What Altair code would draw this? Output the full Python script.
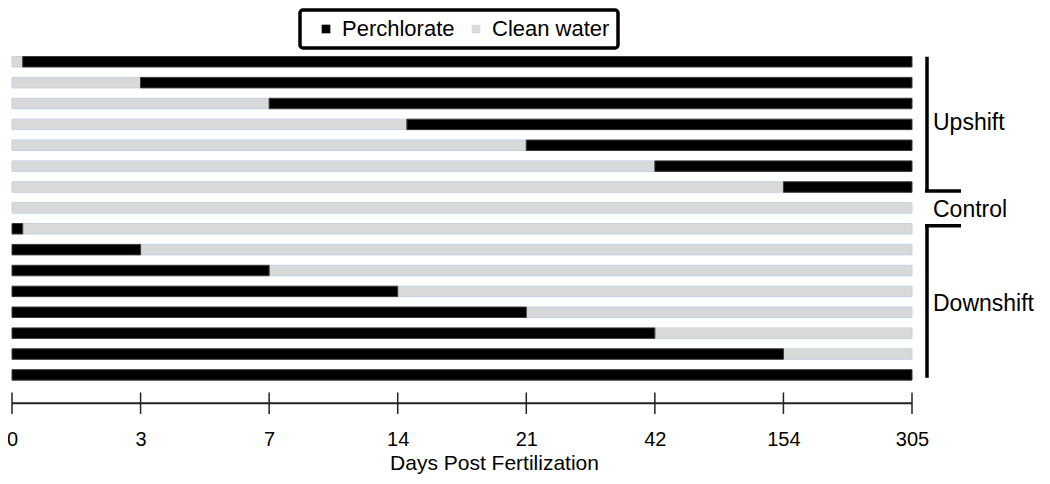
import altair as alt
import pandas as pd

# ---------------- data ----------------
tick_days = [0, 3, 7, 14, 21, 42, 154, 305]
series = ["Perchlorate", "Clean water"]
series_colors = ["#000000", "#d9d9d9"]
series_strokes = ["#3a3a3a", "#c3d0e3"]

# Upshift: clean water until the switch day, perchlorate afterwards
upshift_switch = [0.25, 3, 7, 14.5, 21, 42, 154]
# Control: clean water throughout (one row)
control_end = [305]
# Downshift: perchlorate until the switch day, clean water afterwards
downshift_switch = [0.25, 3, 7, 14, 21, 42, 154, 305]

group_names = ["Upshift", "Control", "Downshift"]
group_label_rows = [2.95, 7.1, 11.6]
bracket_names = ["Upshift", "Downshift"]
bracket_top = [-0.24, 7.86]
bracket_bottom = [6.19, 15.14]
bracket_foot = [6.19, 7.86]

# ---------------- build segments ----------------
end_day = tick_days[-1]
rows = []
r = 0
for s in upshift_switch:
    rows.append({"row": r, "start": 0, "end": s, "series": "Clean water", "order": 0})
    rows.append({"row": r, "start": s, "end": end_day, "series": "Perchlorate", "order": 1})
    r += 1
for e in control_end:
    rows.append({"row": r, "start": 0, "end": e, "series": "Clean water", "order": 0})
    r += 1
for s in downshift_switch:
    if s < end_day:
        rows.append({"row": r, "start": s, "end": end_day, "series": "Clean water", "order": 0})
    rows.append({"row": r, "start": 0, "end": s, "series": "Perchlorate", "order": 1})
    r += 1
seg = pd.DataFrame(rows).sort_values("order")

labels_df = pd.DataFrame({"label": group_names, "row": group_label_rows})
br_df = pd.DataFrame({"name": bracket_names, "top": bracket_top,
                      "bottom": bracket_bottom, "foot": bracket_foot})
ticks_df = pd.DataFrame({"day": tick_days})
axis_df = pd.DataFrame({"x": [tick_days[0]], "x2": [tick_days[-1]]})

# ---------------- layout ----------------
FONT = "Liberation Sans, Arial, sans-serif"
PLOT_W = 900
H = 408
ROW_STEP = 21.4
FIRST_ROW_Y = 50
AXIS_Y = 400          # plot px of the axis line
TICK_UP, TICK_DOWN = 11, 11


def to_row(px):
    return (px - FIRST_ROW_Y) / ROW_STEP


n_int = len(tick_days) - 1
x_scale = alt.Scale(domain=tick_days,
                    range=[i * PLOT_W / n_int for i in range(len(tick_days))],
                    nice=False, zero=False)
y_scale = alt.Scale(domain=[to_row(0), to_row(H)],
                    range=[0, H], nice=False, zero=False)

bars = alt.Chart(seg).mark_bar(size=10.5, strokeWidth=1).encode(
    x=alt.X("start:Q", scale=x_scale,
            axis=alt.Axis(values=tick_days, domain=False, ticks=False, grid=False,
                          labelFlush=False,
                          labelPadding=13, labelFontSize=20, labelFont=FONT,
                          labelColor="#000", format="d",
                          title="Days Post Fertilization", titleFont=FONT,
                          titleFontSize=21, titleFontWeight="normal",
                          titleColor="#000", titlePadding=3, titleX=482)),
    x2="end:Q",
    y=alt.Y("row:Q", scale=y_scale, axis=None),
    color=alt.Color("series:N",
                    scale=alt.Scale(domain=series, range=series_colors),
                    legend=alt.Legend(orient="none", legendX=288, legendY=2,
                                      direction="horizontal", title=None,
                                      symbolType="square", symbolSize=75,
                                      symbolStrokeWidth=0,
                                      labelFontSize=22, labelFont=FONT,
                                      labelColor="#000", labelOffset=5,
                                      padding=8,
                                      columnPadding=3, symbolOffset=7,
                                      fillColor="#ffffff")),
    stroke=alt.Stroke("series:N",
                      scale=alt.Scale(domain=series, range=series_strokes),
                      legend=None),
    order=alt.Order("order:Q"),
)

axis_line = alt.Chart(axis_df).mark_rule(color="#222", strokeWidth=2).encode(
    x=alt.X("x:Q", scale=x_scale), x2="x2:Q",
    y=alt.datum(to_row(AXIS_Y)),
)
axis_ticks = alt.Chart(ticks_df).mark_rule(color="#222", strokeWidth=1.5).encode(
    x=alt.X("day:Q", scale=x_scale),
    y=alt.datum(to_row(AXIS_Y - TICK_UP)), y2=alt.datum(to_row(AXIS_Y + TICK_DOWN)),
)

br_vert = alt.Chart(br_df).mark_rule(color="#000", strokeWidth=3.5).encode(
    x=alt.value(915), y=alt.Y("top:Q", scale=y_scale), y2="bottom:Q",
)
br_foot = alt.Chart(br_df).mark_rule(color="#000", strokeWidth=3.5).encode(
    x=alt.value(913), x2=alt.value(949), y=alt.Y("foot:Q", scale=y_scale),
)
group_text = alt.Chart(labels_df).mark_text(
    align="left", baseline="middle", fontSize=23, font=FONT, color="#000"
).encode(
    x=alt.value(921), y=alt.Y("row:Q", scale=y_scale), text="label:N",
)

chart = alt.layer(
    bars, axis_line, axis_ticks, br_vert, br_foot, group_text
).properties(
    width=1020, height=H,
    autosize=alt.AutoSizeParams(type="none"),
    padding={"left": 4, "top": 0, "right": 4, "bottom": 60},
    background="white",
).configure_view(stroke=None).configure_legend(
    strokeColor="#000", strokeWidth=3.5, cornerRadius=3,
)

chart.save("out.html", embed_options={"renderer": "svg", "actions": False})
